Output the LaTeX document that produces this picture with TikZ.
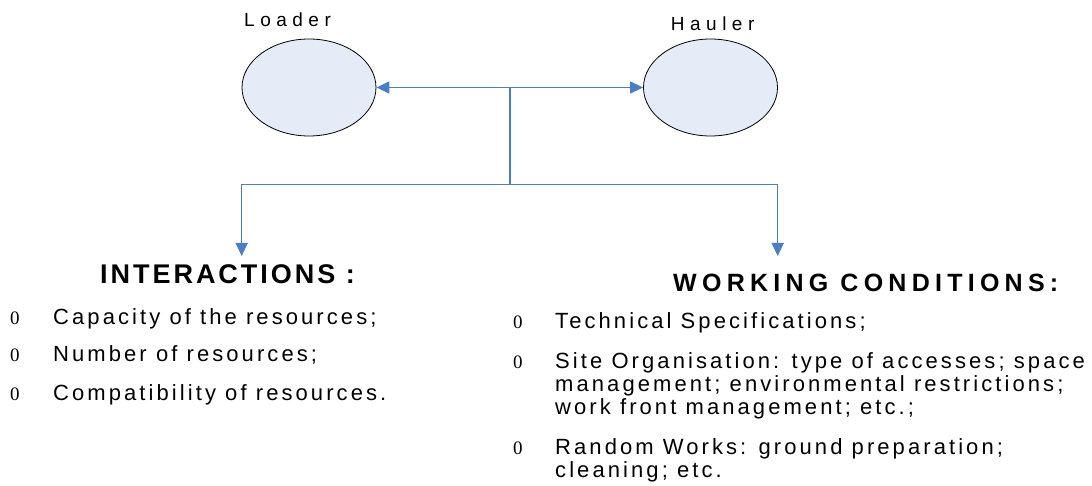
\documentclass[tikz,border=0pt]{standalone}
\usepackage{fontspec}
\setmainfont{Liberation Sans}
\newfontfamily\bulletfont{Liberation Serif}
\usetikzlibrary{shapes.geometric,arrows.meta}
\definecolor{linkblue}{HTML}{4A7EC5}
\definecolor{bubble}{HTML}{E6ECF7}
\begin{document}
\begin{tikzpicture}[x=1pt,y=-1pt,
  resource/.style={ellipse,draw=black,line width=0.8pt,fill=bubble,
    minimum width=134pt,minimum height=97pt,inner sep=0pt},
  link/.style={draw=linkblue,line width=1.3pt},
  tip/.style={-{Triangle[length=13pt,width=12pt]}},
  caption/.style={anchor=base west,inner sep=0pt,
    font=\fontsize{19}{22}\selectfont\addfontfeature{LetterSpace=29}},
  heading/.style={anchor=base west,inner sep=0pt},
  item/.style={anchor=base west,inner sep=0pt,
    font=\fontsize{22}{23}\selectfont\addfontfeature{LetterSpace=14}},
  bullet/.style={anchor=base west,inner sep=0pt,
    font=\bulletfont\fontsize{19}{21}\selectfont}]
\useasboundingbox (0,0) rectangle (1092,486);

% the two resources
\node[resource] (loader) at (309,87.5) {};
\node[resource] (hauler) at (710.5,87.5) {};
\node[caption] (loaderlabel) at (244,26.7) {Loader};
\node[caption] (haulerlabel) at (670.7,30.7) {Hauler};

% connector tree
\coordinate (hub) at (510,87.5);
\coordinate (split) at (510,184.3);
\coordinate (leftdrop) at (241.7,256);
\coordinate (rightdrop) at (777.7,256);
\draw[link,tip] (hub) -- (loader.east);
\draw[link,tip] (hub) -- (hauler.west);
\draw[link] (hub) -- (split);
\draw[link,tip] (split) -| (leftdrop);
\draw[link,tip] (split) -| (rightdrop);

% interactions
\node[heading,font=\bfseries\fontsize{27}{30}\selectfont\addfontfeature{LetterSpace=11}]
  (interactions) at (100,283.5) {INTERACTIONS :};
\node[bullet] (ib1) at (10,324) {0};
\node[item] (i1) at (53,324) {Capacity of the resources;};
\node[bullet] (ib2) at (10,361) {0};
\node[item] (i2) at (53,361) {Number of resources;};
\node[bullet] (ib3) at (10,400) {0};
\node[item] (i3) at (53,400) {Compatibility of resources.};

% working conditions
\node[heading,font=\bfseries\fontsize{25}{28}\selectfont\addfontfeature{LetterSpace=21}]
  (conditions) at (673,291) {WORKING CONDITIONS:};
\node[bullet] (wb1) at (513,328) {0};
\node[item] (w1) at (555,328) {Technical Specifications;};
\node[bullet] (wb2) at (513,368) {0};
\node[item] (w2a) at (555,368) {Site Organisation: type of accesses; space};
\node[item] (w2b) at (555,391) {management; environmental restrictions;};
\node[item] (w2c) at (555,414) {work front management; etc.;};
\node[bullet] (wb3) at (513,454.5) {0};
\node[item] (w3a) at (555,454.5) {Random Works: ground preparation;};
\node[item] (w3b) at (555,477.5) {cleaning; etc.};
\end{tikzpicture}
\end{document}
